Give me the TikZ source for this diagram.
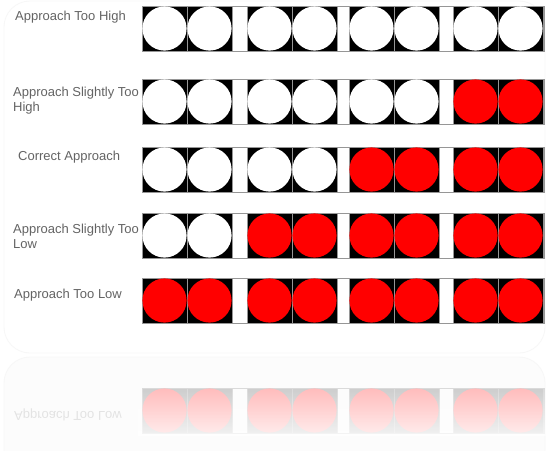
\documentclass[tikz,border=0pt]{standalone}
\usepackage{fontspec}
\setmainfont{Liberation Sans}
\usetikzlibrary{positioning,fadings}
\definecolor{labelgray}{RGB}{100,100,100}
\definecolor{framegray}{RGB}{150,150,150}
\definecolor{lampred}{RGB}{255,0,0}

\begin{document}
\begin{tikzpicture}[x=1pt,y=-1pt,
  cell/.style={rectangle, draw=framegray, line width=0.8pt, fill=black,
    minimum size=45pt, inner sep=0pt},
  lamp/.style={circle, minimum size=44.2pt, inner sep=0pt},
  rowlabel/.style={anchor=west, inner sep=0pt, align=left, text=labelgray,
    font=\fontsize{13}{15}\selectfont},
  rowframe/.style={draw=framegray, line width=0.8pt},
  panel/.style={draw=gray!6, line width=0.8pt, rounded corners=26pt}
]

\useasboundingbox[fill=white] (0,0) rectangle (549,450);

% panels
\draw[panel] (4,1) rectangle (545,353);
\draw[panel, fill=gray!2] (4,357) rectangle (545,480);

% light bars
\foreach \top [count=\r] in {6,79,147,213,278} {
  \draw[rowframe] (142,\top) rectangle (544,\top+45);
  \foreach \px [count=\p] in {142,247,349,453} {
    \ifnum\p>\numexpr5-\r\relax \def\lampcol{lampred}\else\def\lampcol{white}\fi
    \node[cell] (c\r-\p-a) at (\px+22.5,\top+22.5) {};
    \node[cell] (c\r-\p-b) at (\px+67.5,\top+22.5) {};
    \node[lamp, fill=\lampcol] (l\r-\p-a) at (c\r-\p-a) {};
    \node[lamp, fill=\lampcol] (l\r-\p-b) at (c\r-\p-b) {};
  }
}

% labels
\node[rowlabel] (lbl1) at (15,17)    {Approach Too High};
\node[rowlabel] (lbl2) at (13,100.5) {Approach Slightly Too\\High};
\node[rowlabel] (lbl3) at (18,157)   {Correct Approach};
\node[rowlabel] (lbl4) at (13,236.5) {Approach Slightly Too\\Low};
\node[rowlabel] (lbl5) at (14,295)   {Approach Too Low};

% reflection of the last bar
\draw[draw=gray!30, line width=0.8pt] (142,388) rectangle (544,433);
\foreach \px [count=\p] in {142,247,349,453} {
  \node[cell, fill=gray!40, draw=gray!30] (rc\p-a) at (\px+22.5,410.5) {};
  \node[cell, fill=gray!40, draw=gray!30] (rc\p-b) at (\px+67.5,410.5) {};
  \node[lamp, fill=red!27] (rl\p-a) at (rc\p-a) {};
  \node[lamp, fill=red!27] (rl\p-b) at (rc\p-b) {};
}
\fill[white, path fading=north, fill opacity=0.75] (138,386) rectangle (548,436);
\node[rowlabel, yscale=-1, text=gray!22] (rlbl5) at (14,415) {Approach Too Low};

\end{tikzpicture}
\end{document}
